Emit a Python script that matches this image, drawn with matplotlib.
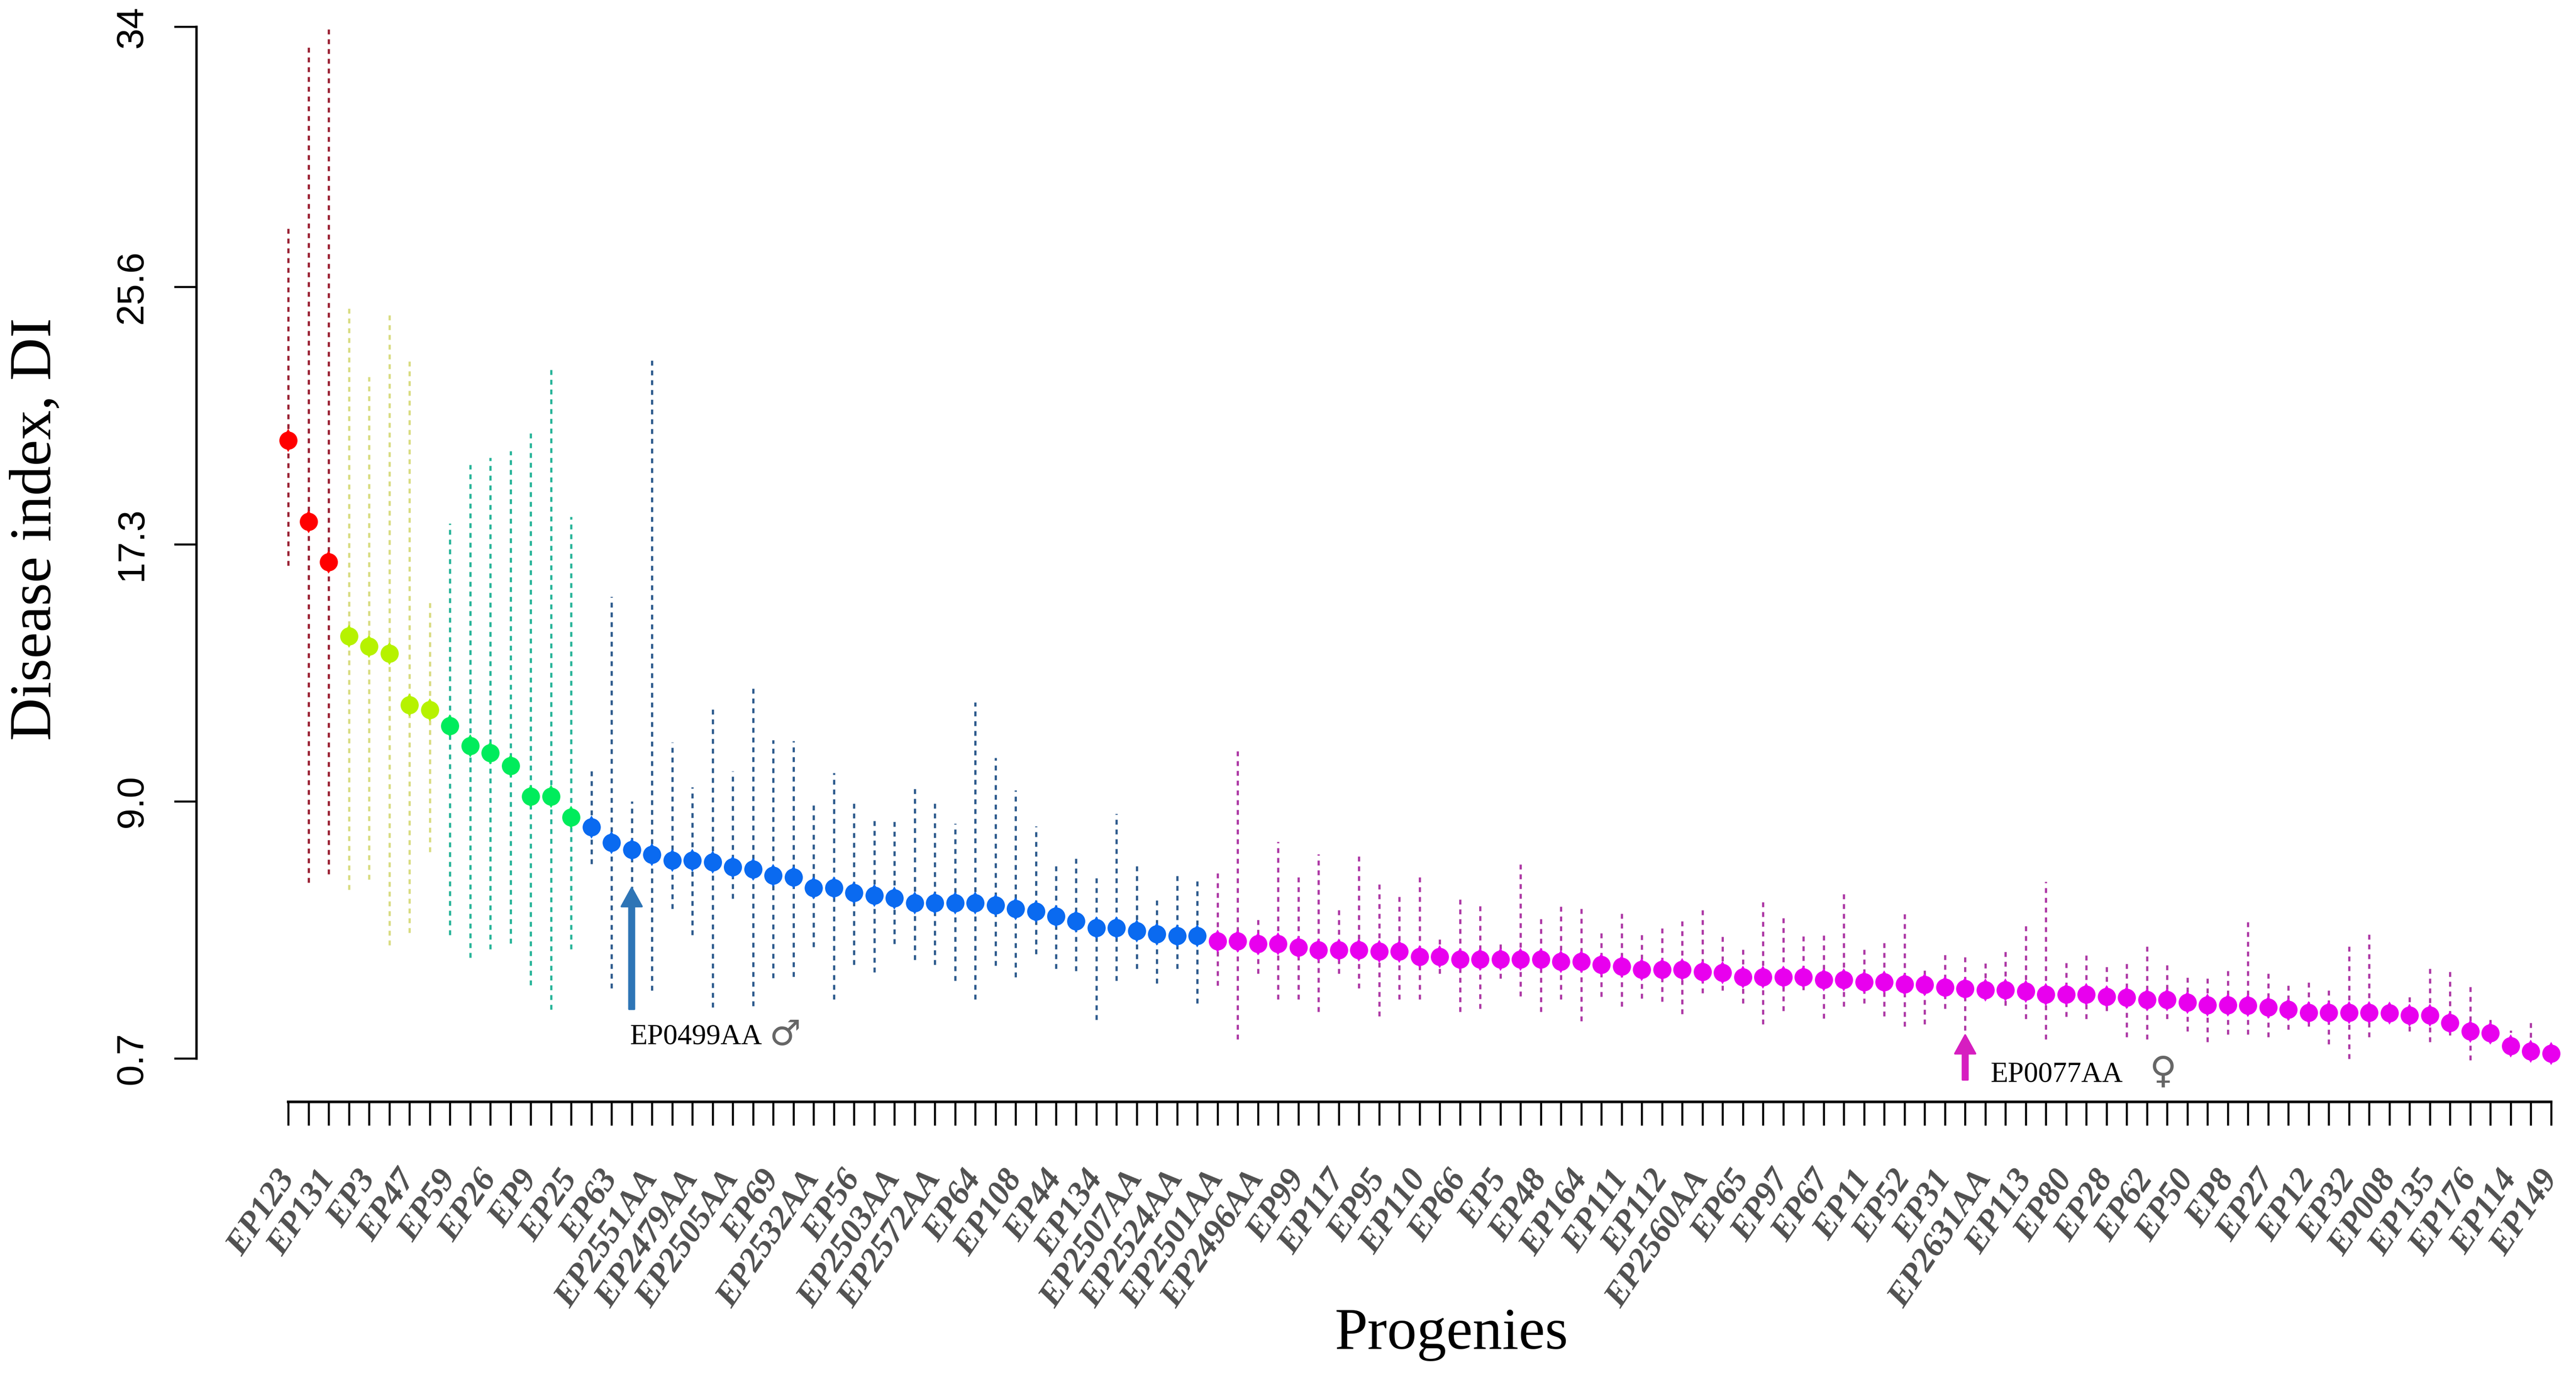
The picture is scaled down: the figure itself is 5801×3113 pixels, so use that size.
import numpy as np
import matplotlib
matplotlib.use('Agg')
import matplotlib.pyplot as plt

# progeny names written under the axis (only every second tick carries a label)
label_names = ['EP123', 'EP131', 'EP3', 'EP47', 'EP59', 'EP26', 'EP9', 'EP25', 'EP63',
               'EP2551AA', 'EP2479AA', 'EP2505AA', 'EP69', 'EP2532AA', 'EP56', 'EP2503AA',
               'EP2572AA', 'EP64', 'EP108', 'EP44', 'EP134', 'EP2507AA', 'EP2524AA',
               'EP2501AA', 'EP2496AA', 'EP99', 'EP117', 'EP95', 'EP110', 'EP66', 'EP5',
               'EP48', 'EP164', 'EP111', 'EP112', 'EP2560AA', 'EP65', 'EP97', 'EP67',
               'EP11', 'EP52', 'EP31', 'EP2631AA', 'EP113', 'EP80', 'EP28', 'EP62',
               'EP50', 'EP8', 'EP27', 'EP12', 'EP32', 'EP008', 'EP135', 'EP176',
               'EP114', 'EP149']

# disease index per progeny (sorted), with lower / upper interval
di_mean = [20.64, 18.02, 16.72, 14.33, 14.00, 13.77, 12.11, 11.95, 11.43, 10.79,
           10.56, 10.14, 9.16, 9.16, 8.48, 8.17, 7.66, 7.43, 7.28, 7.09,
           7.09, 7.03, 6.87, 6.80, 6.60, 6.54, 6.20, 6.20, 6.04, 5.96,
           5.88, 5.72, 5.72, 5.72, 5.72, 5.64, 5.53, 5.45, 5.28, 5.13,
           4.91, 4.91, 4.81, 4.71, 4.65, 4.65, 4.48, 4.48, 4.39, 4.39,
           4.28, 4.20, 4.20, 4.20, 4.15, 4.15, 3.98, 3.98, 3.89, 3.89,
           3.89, 3.89, 3.89, 3.82, 3.82, 3.72, 3.66, 3.57, 3.57, 3.57,
           3.49, 3.47, 3.32, 3.32, 3.32, 3.32, 3.24, 3.24, 3.17, 3.17,
           3.10, 3.08, 2.99, 2.95, 2.91, 2.91, 2.86, 2.76, 2.76, 2.76,
           2.69, 2.66, 2.59, 2.59, 2.50, 2.42, 2.42, 2.40, 2.35, 2.28,
           2.18, 2.17, 2.17, 2.17, 2.16, 2.09, 2.09, 1.84, 1.58, 1.51,
           1.10, 0.93, 0.86]

di_upper = [27.57, 33.46, 34.0, 25.01, 22.70, 24.83, 23.28, 15.42, 17.96, 19.86,
            20.08, 20.30, 20.91, 23.06, 18.18, 10.05, 15.60, 9.00, 23.37, 10.90,
            9.45, 11.98, 9.97, 12.70, 10.97, 10.95, 8.96, 9.92, 9.08, 8.52,
            8.44, 9.55, 9.08, 8.28, 12.19, 10.40, 9.35, 8.20, 7.04, 7.29,
            6.63, 8.60, 7.04, 5.88, 6.71, 6.55, 6.79, 10.64, 5.24, 7.69,
            6.71, 7.29, 5.56, 7.35, 6.47, 6.05, 6.71, 4.59, 5.99, 5.73,
            4.41, 7.12, 5.32, 5.73, 5.64, 4.82, 5.50, 4.75, 4.99, 5.25,
            5.57, 4.68, 4.26, 5.90, 5.32, 4.68, 4.75, 6.14, 4.26, 4.48,
            5.50, 3.60, 4.07, 4.01, 3.77, 4.17, 5.09, 6.41, 3.86, 4.10,
            3.69, 3.86, 4.41, 3.77, 3.33, 3.33, 3.60, 5.25, 3.49, 3.10,
            3.17, 2.92, 4.41, 4.82, 2.33, 2.69, 3.69, 3.52, 3.12, 1.95,
            1.60, 1.90, 1.00]

di_lower = [16.61, 6.38, 6.65, 6.15, 6.47, 4.36, 4.75, 7.37, 4.68, 3.96,
            4.23, 4.41, 3.07, 2.28, 4.23, 6.98, 2.96, 6.09, 2.89, 5.53,
            4.68, 2.35, 5.86, 2.39, 3.29, 3.33, 4.29, 2.61, 3.73, 3.48,
            4.39, 3.88, 3.73, 3.21, 2.60, 3.69, 3.32, 4.07, 3.60, 3.52,
            1.94, 3.21, 3.60, 3.12, 3.60, 2.47, 3.05, 1.32, 3.43, 2.60,
            2.60, 2.20, 3.43, 2.96, 2.06, 2.61, 2.61, 3.43, 2.21, 2.31,
            3.28, 2.71, 2.21, 2.61, 1.90, 2.69, 2.37, 2.63, 2.53, 2.14,
            2.81, 2.89, 2.47, 1.80, 2.23, 2.90, 1.99, 2.37, 2.47, 2.06,
            1.73, 1.80, 2.31, 1.60, 2.66, 2.40, 1.97, 1.32, 2.04, 1.97,
            2.23, 1.39, 1.32, 1.97, 1.58, 1.23, 1.48, 1.48, 1.39, 1.63,
            1.73, 1.16, 0.69, 1.39, 1.98, 1.58, 1.23, 1.44, 0.65, 1.20,
            0.90, 0.75, 0.70]

# clusters of progenies (sizes in ranking order) and their colours
group_sizes = [3, 5, 7, 31, 67]
point_colors = ['#FF0000', '#B6F200', '#00EC5C', '#0A6AF0', '#E800EE']
bar_colors = ['#9B2335', '#D9DC82', '#2AB59A', '#2F5C8E', '#AE3AA6']

yticks = [0.7, 9.0, 17.3, 25.6, 34]
ytick_labels = ['0.7', '9.0', '17.3', '25.6', '34']

W, H = 5801, 3113
fig = plt.figure(figsize=(W / 300, H / 300), dpi=300)
ax = fig.add_axes([442 / W, (H - 2482) / H, (5790 - 442) / W, (2482 - 40) / H])

x = np.arange(1, len(di_mean) + 1)
mean = np.array(di_mean)
upper = np.array(di_upper)
lower = np.array(di_lower)

start = 0
for n, pc, bc in zip(group_sizes, point_colors, bar_colors):
    sl = slice(start, start + n)
    ax.vlines(x[sl], lower[sl], upper[sl], colors=bc, linewidth=1.2,
              linestyles=(0, (2.2, 2.2)), zorder=1)
    ax.plot(x[sl], mean[sl], 'o', ms=8.8, color=pc, mec=pc, zorder=3)
    ax.plot(x[sl], mean[sl], 'd', ms=7.6, color=pc, mec=pc, zorder=3)
    start += n

ax.set_xlim(-3.55, 113.99)
ax.set_ylim(-0.704, 34.287)

for s in ['top', 'right']:
    ax.spines[s].set_visible(False)
ax.spines['left'].set_bounds(0.7, 34)
ax.spines['bottom'].set_bounds(1, 113)
ax.spines['left'].set_linewidth(1.3)
ax.spines['bottom'].set_linewidth(1.4)

ax.set_yticks(yticks)
ax.set_yticklabels(ytick_labels, rotation=90, va='center', fontsize=20.5,
                   family='Liberation Sans')
ax.tick_params(axis='y', length=12, width=1.1, pad=13)

xlabels = [''] * len(x)
xlabels[::2] = label_names
ax.set_xticks(x)
ax.set_xticklabels(xlabels, rotation=56, ha='right', va='center', rotation_mode='anchor',
                   fontsize=18.5, fontweight='bold', fontstyle='italic', color='#505050',
                   family='Liberation Serif')
ax.tick_params(axis='x', length=12.7, width=1.1, pad=26)

fig.text(81 / W, 1 - 1192 / H, 'Disease index, DI', rotation=90, ha='center', va='center',
         fontsize=32, family='Liberation Serif')
fig.text(3268 / W, 1 - 3005 / H, 'Progenies', ha='center', va='center',
         fontsize=32, family='Liberation Serif')

# parents of the cross
ax.annotate('', xy=(18, 6.2), xytext=(18, 2.29),
            arrowprops=dict(arrowstyle='simple,head_width=0.55,head_length=0.5,tail_width=0.14',
                            color='#2E75B6', mutation_scale=20, shrinkA=0, shrinkB=0))
ax.text(17.9, 1.39, 'EP0499AA', ha='left', va='center', fontsize=15.5, family='Liberation Serif')
ax.text(25.6, 1.45, '\u2642', ha='center', va='center', fontsize=19, color='#666666',
        family='DejaVu Sans')

ax.annotate('', xy=(84, 1.45), xytext=(84, 0.01),
            arrowprops=dict(arrowstyle='simple,head_width=0.55,head_length=0.5,tail_width=0.14',
                            color='#D61EC0', mutation_scale=20, shrinkA=0, shrinkB=0),
            annotation_clip=False)
ax.text(85.24, 0.17, 'EP0077AA', ha='left', va='center', fontsize=15.5, family='Liberation Serif')
ax.text(93.8, 0.26, '\u2640', ha='center', va='center', fontsize=20, color='#666666',
        family='DejaVu Sans')

plt.savefig('out.png', dpi=300)
